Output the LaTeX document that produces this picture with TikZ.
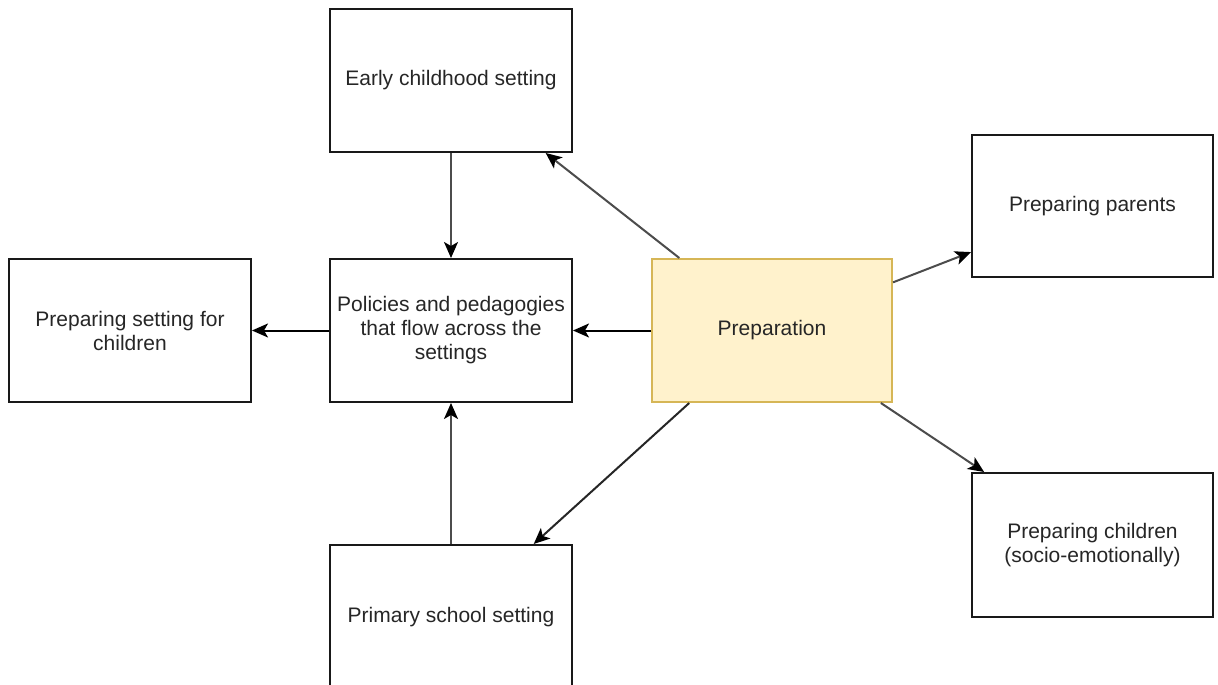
\documentclass[tikz,border=0pt]{standalone}
\usepackage{fontspec}
\setmainfont{Liberation Sans}
\usetikzlibrary{arrows.meta,calc}
\definecolor{prepfill}{HTML}{FFF2CC}
\definecolor{prepdraw}{HTML}{D6B656}
\definecolor{txt}{HTML}{262626}
\tikzset{
  box/.style={draw=black!90, line width=2pt, fill=white, align=center,
    font=\fontsize{21}{24}\selectfont, text=txt, inner sep=0pt},
  prepbox/.style={box, draw=prepdraw, fill=prepfill},
  link/.style={line width=2pt, draw=black!70,
    -{Stealth[length=16pt,width=14pt,inset=4pt,color=black]}},
  darklink/.style={link, draw=black},
}
\begin{document}
\begin{tikzpicture}[x=1pt,y=-1pt]
\fill[white] (0,0) rectangle (1218,685);
\clip (0,0) rectangle (1218,685);
\useasboundingbox (0,0) rectangle (1218,685);

% boxes
\node[box, minimum width=242pt, minimum height=143pt] (early) at (451,80.5) {Early childhood setting};
\node[box, minimum width=242pt, minimum height=143pt] (setting) at (130,330.5) {Preparing setting for\\children};
\node[box, minimum width=242pt, minimum height=143pt] (policies) at (451,330.5) {Policies and pedagogies\\that flow across the\\settings};
\node[prepbox, minimum width=240pt, minimum height=143pt] (prep) at (772,330.5) {Preparation};
\node[box, minimum width=241pt, minimum height=142pt] (parents) at (1092.5,206) {Preparing parents};
\node[box, minimum width=241pt, minimum height=144pt] (children) at (1092.5,545) {Preparing children\\(socio-emotionally)};
\node[box, minimum width=242pt, minimum height=145pt] (primary) at (451,617.5) {Primary school setting};

% connectors
\draw[link] (early.south) -- (policies.north);
\draw[link] (primary.north) -- (policies.south);
\draw[darklink] (prep.west) -- (policies.east);
\draw[darklink] (policies.west) -- (setting.east);
\draw[link] ($(prep.north west)!0.117!(prep.north east)$) -- ($(early.south west)!0.888!(early.south east)$);
\draw[link, draw=black!85] ($(prep.south west)!0.158!(prep.south east)$) -- ($(primary.north west)!0.839!(primary.north east)$);
\draw[link] ($(prep.north east)!0.168!(prep.south east)$) -- ($(parents.north west)!0.82!(parents.south west)$);
\draw[link] ($(prep.south west)!0.95!(prep.south east)$) -- ($(children.north west)!0.054!(children.north east)$);
\end{tikzpicture}
\end{document}
